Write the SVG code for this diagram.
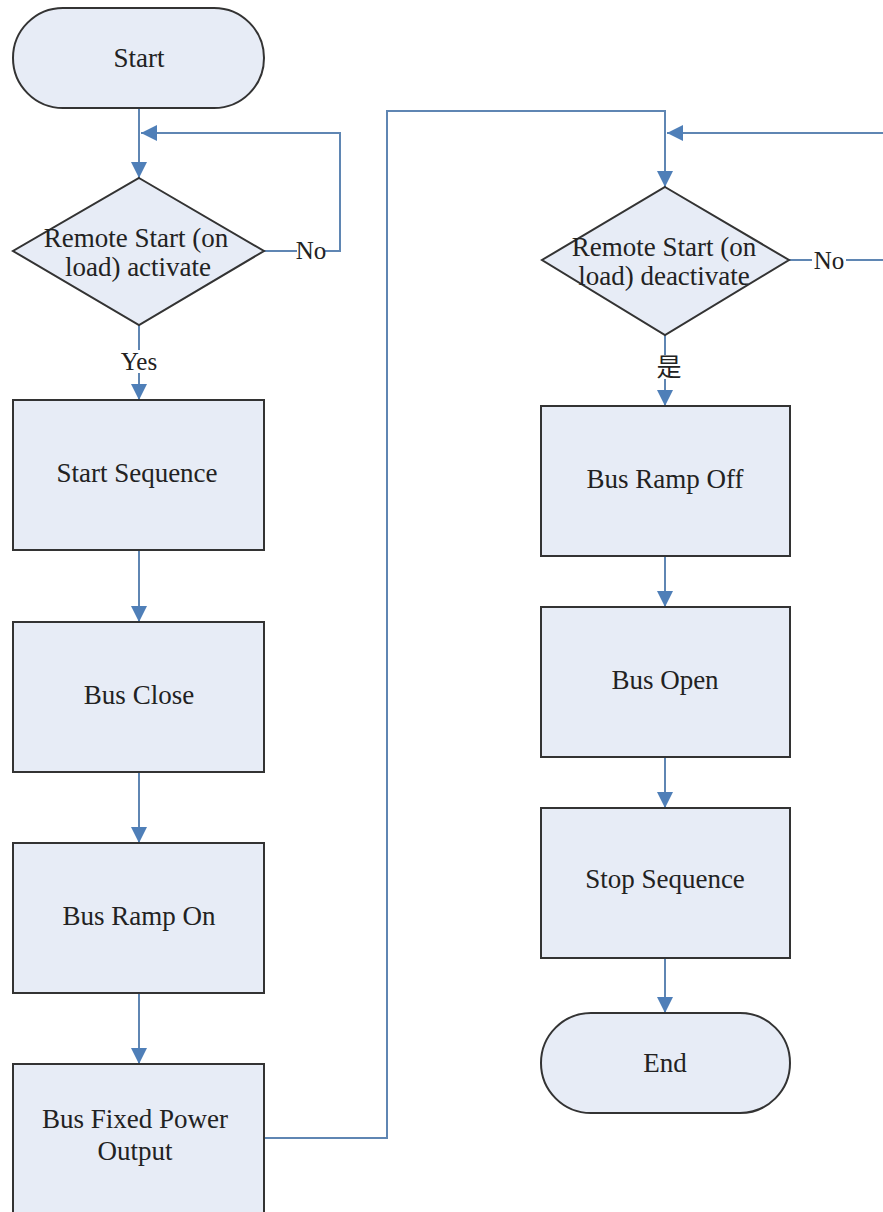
<svg xmlns="http://www.w3.org/2000/svg" width="883" height="1212" viewBox="0 0 883 1212">
<style>
.n{fill:#e7ecf6;stroke:#333;stroke-width:2}
.t{font-size:27px;fill:#222;text-anchor:middle}
.s{font-size:25px;fill:#222;text-anchor:middle}
.c{fill:none;stroke:#5f86b3;stroke-width:2}
.a{fill:#4f7fb8}
</style>
<defs>
<marker id="ah" viewBox="0 0 16 16" refX="16" refY="8" markerWidth="16" markerHeight="16" markerUnits="userSpaceOnUse" orient="auto">
<path d="M0,0 L16,8 L0,16 Z" class="a"/>
</marker>
</defs>
<rect width="883" height="1212" fill="#fff"/>
<g id="connectors">
<path class="c" d="M139,108 V178" marker-end="url(#ah)"/>
<path class="c" d="M264,251 H297 M325,251 H340 V133 H141" marker-end="url(#ah)"/>
<path class="c" d="M139,325 V350"/>
<path class="c" d="M139,373 V400" marker-end="url(#ah)"/>
<path class="c" d="M139,550 V622" marker-end="url(#ah)"/>
<path class="c" d="M139,772 V843" marker-end="url(#ah)"/>
<path class="c" d="M139,993 V1064" marker-end="url(#ah)"/>
<path class="c" d="M264,1138 H387 V111 H665 V187" marker-end="url(#ah)"/>
<path class="c" d="M789,260 H812 M846,260 H890 V133 H667" marker-end="url(#ah)"/>
<path class="c" d="M665,335 V355"/>
<path class="c" d="M665,379 V406" marker-end="url(#ah)"/>
<path class="c" d="M665,556 V607" marker-end="url(#ah)"/>
<path class="c" d="M665,757 V808" marker-end="url(#ah)"/>
<path class="c" d="M665,958 V1013" marker-end="url(#ah)"/>
<g font-family="Liberation Serif, Times New Roman, Noto Sans CJK SC, serif">
<text class="s" x="311" y="259">No</text>
<text class="s" x="139" y="370">Yes</text>
<text class="s" x="829" y="269">No</text>
<text class="s" x="669" y="376">是</text>
</g>
</g>
<g font-family="Liberation Serif, Times New Roman, serif">
<g id="start">
<rect class="n" x="13" y="8" width="251" height="100" rx="50"/>
<text class="t" x="139" y="67">Start</text>
</g>
<g id="decision1">
<path class="n" d="M139,178 L264,251 L139,325 L13,251 Z"/>
<text class="t" x="136" y="247">Remote Start (on</text>
<text class="t" x="138" y="276">load) activate</text>
</g>
<g id="startSequence">
<rect class="n" x="13" y="400" width="251" height="150"/>
<text class="t" x="137" y="482">Start Sequence</text>
</g>
<g id="busClose">
<rect class="n" x="13" y="622" width="251" height="150"/>
<text class="t" x="139" y="704">Bus Close</text>
</g>
<g id="busRampOn">
<rect class="n" x="13" y="843" width="251" height="150"/>
<text class="t" x="139" y="925">Bus Ramp On</text>
</g>
<g id="busFixedPowerOutput">
<rect class="n" x="13" y="1064" width="251" height="160"/>
<text class="t" x="135" y="1128">Bus Fixed Power</text>
<text class="t" x="135" y="1160">Output</text>
</g>
<g id="decision2">
<path class="n" d="M665,187 L789,260 L665,335 L542,260 Z"/>
<text class="t" x="664" y="256">Remote Start (on</text>
<text class="t" x="664" y="285">load) deactivate</text>
</g>
<g id="busRampOff">
<rect class="n" x="541" y="406" width="249" height="150"/>
<text class="t" x="665" y="488">Bus Ramp Off</text>
</g>
<g id="busOpen">
<rect class="n" x="541" y="607" width="249" height="150"/>
<text class="t" x="665" y="689">Bus Open</text>
</g>
<g id="stopSequence">
<rect class="n" x="541" y="808" width="249" height="150"/>
<text class="t" x="665" y="888">Stop Sequence</text>
</g>
<g id="end">
<rect class="n" x="541" y="1013" width="249" height="100" rx="50"/>
<text class="t" x="665" y="1072">End</text>
</g>
</g>
</svg>
